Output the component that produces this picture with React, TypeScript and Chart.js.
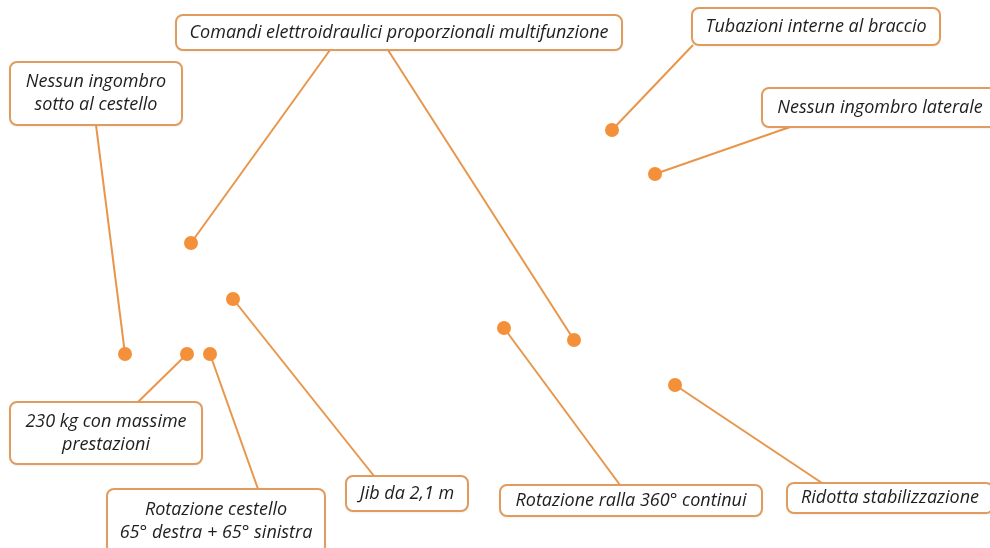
import React, { useEffect, useRef } from "react";
import { Chart, registerables } from "chart.js";

Chart.register(...registerables);

// Callout labels (one entry per box, lines split)
const calloutLabels: string[][] = [
  ["Comandi elettroidraulici proporzionali multifunzione"],
  ["Nessun ingombro", "sotto al cestello"],
  ["Tubazioni interne al braccio"],
  ["Nessun ingombro laterale"],
  ["230 kg con massime", "prestazioni"],
  ["Rotazione cestello", "65° destra + 65° sinistra"],
  ["Jib da 2,1 m"],
  ["Rotazione ralla 360° continui"],
  ["Ridotta stabilizzazione"],
];
// Box extents in data units (left, top, right, bottom)
const boxLeft = [176, 10, 692, 762, 10, 107, 346, 500, 787];
const boxTop = [15, 62, 8, 88, 402, 489, 476, 485, 483];
const boxRight = [622, 182, 940, 998, 202, 325, 468, 762, 993];
const boxBottom = [50, 125, 45, 127, 464, 553, 511, 516, 513];

// Marker points
const dotX = [612, 655, 191, 574, 233, 125, 187, 210, 504, 675];
const dotY = [130, 174, 243, 340, 299, 354, 354, 354, 328, 385];
// Where each leader meets its box
const anchorX = [693, 790, 330, 388, 374, 96, 138, 258, 620, 822];
const anchorY = [45, 127, 50, 50, 476, 125, 402, 489, 485, 483];

const ORANGE = "#f5903a";
const LINE = "#e8964c";
const BORDER = "#df9c5e";

const boxPlugin = {
  id: "calloutBoxes",
  afterDatasetsDraw(chart: any) {
    const ctx = chart.ctx;
    const xs = chart.scales.x;
    const ys = chart.scales.y;
    ctx.save();
    calloutLabels.forEach((lines, i) => {
      const l = xs.getPixelForValue(boxLeft[i]);
      const r = xs.getPixelForValue(boxRight[i]);
      const t = ys.getPixelForValue(boxTop[i]);
      const b = ys.getPixelForValue(boxBottom[i]);
      ctx.beginPath();
      ctx.roundRect(l, t, r - l, b - t, 7);
      ctx.shadowColor = "rgba(0,0,0,0.12)";
      ctx.shadowBlur = 3;
      ctx.shadowOffsetY = 1;
      ctx.fillStyle = "#ffffff";
      ctx.fill();
      ctx.shadowColor = "transparent";
      ctx.lineWidth = 2;
      ctx.strokeStyle = BORDER;
      ctx.stroke();
      ctx.fillStyle = "#1e1e1e";
      ctx.font = "italic 500 18px 'Open Sans'";
      ctx.textAlign = "center";
      ctx.textBaseline = "middle";
      const cx = (l + r) / 2;
      const cy = (t + b) / 2 - ((lines.length - 1) * 23) / 2;
      lines.forEach((s, k) => {
        ctx.fillText(s, cx, cy + k * 23);
      });
    });
    ctx.restore();
  },
};

export default function App() {
  const ref = useRef<HTMLCanvasElement>(null);
  useEffect(() => {
    document.body.style.margin = "0";
    const leaderSets = dotX.map((x, i) => ({
      type: "line" as const,
      data: [
        { x: anchorX[i], y: anchorY[i] },
        { x, y: dotY[i] },
      ],
      borderColor: LINE,
      borderWidth: 2,
      pointRadius: 0,
      showLine: true,
      fill: false,
      order: 1,
    }));
    const chart = new Chart(ref.current!, {
      type: "scatter",
      data: {
        datasets: [
          {
            type: "scatter" as const,
            data: dotX.map((x, i) => ({ x, y: dotY[i] })),
            backgroundColor: ORANGE,
            borderColor: ORANGE,
            borderWidth: 0,
            pointRadius: 7,
            order: 0,
          },
          ...leaderSets,
        ] as any,
      },
      options: {
        animation: false,
        responsive: false,
        devicePixelRatio: 1,
        layout: { padding: 0, autoPadding: false },
        plugins: { legend: { display: false }, tooltip: { enabled: false } },
        scales: {
          x: { type: "linear", min: 0, max: 990, display: false },
          y: { type: "linear", min: 0, max: 548, reverse: true, display: false },
        },
      },
      plugins: [boxPlugin],
    });
    return () => chart.destroy();
  }, []);
  return (
    <div style={{ position: "absolute", left: 0, top: 0, width: 990, height: 548, background: "#fff" }}>
      <canvas ref={ref} width={990} height={548} />
    </div>
  );
}
